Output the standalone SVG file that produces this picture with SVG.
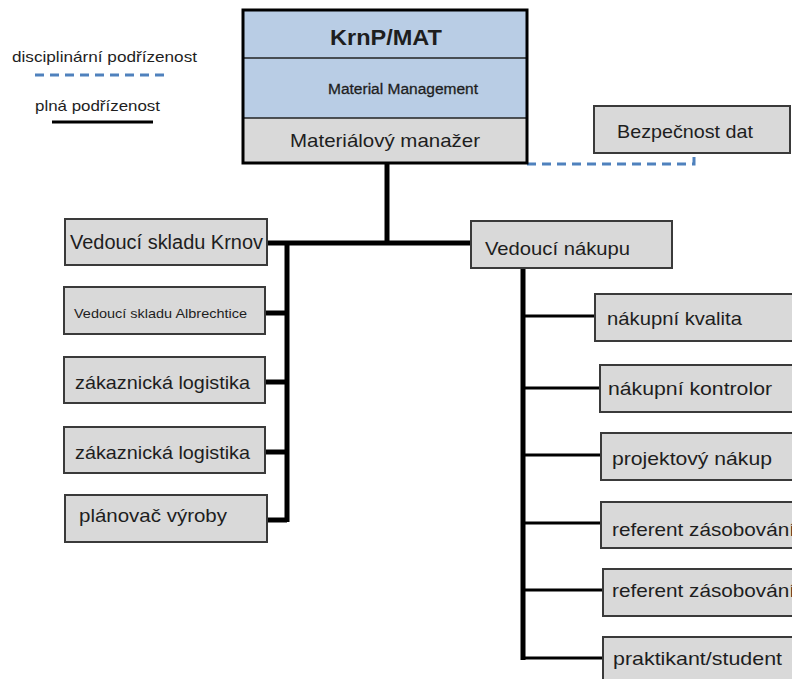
<svg xmlns="http://www.w3.org/2000/svg" width="792" height="679" viewBox="0 0 792 679">
<style>
text{font-family:"Liberation Sans","DejaVu Sans",sans-serif;fill:#1e1e1e}
.box{fill:#d9d9d9;stroke:#3a3a3a;stroke-width:2}
.thick{stroke:#000;stroke-width:5;fill:none}
.thin{stroke:#000;stroke-width:3;fill:none}
.dash{stroke:#4f81bd;stroke-width:3;stroke-dasharray:9 6;fill:none}
.t{font-size:18.5px}
</style>
<rect width="792" height="679" fill="#fff"/>
<g id="legend">
<text x="12" y="62" font-size="14.5" textLength="185" lengthAdjust="spacingAndGlyphs">disciplinární podřízenost</text>
<line x1="35" y1="75" x2="170" y2="75" class="dash"/>
<text x="35" y="111" font-size="14.5" textLength="125" lengthAdjust="spacingAndGlyphs">plná podřízenost</text>
<line x1="52" y1="122" x2="153" y2="122" stroke="#000" stroke-width="3"/>
</g>
<g id="connectors">
<line x1="387" y1="163" x2="387" y2="243" class="thick"/>
<line x1="267" y1="243" x2="472" y2="243" class="thick"/>
<line x1="287" y1="241" x2="287" y2="522" class="thick"/>
<line x1="265" y1="313" x2="287" y2="313" class="thick"/>
<line x1="265" y1="382" x2="287" y2="382" class="thick"/>
<line x1="265" y1="452" x2="287" y2="452" class="thick"/>
<line x1="267" y1="520" x2="287" y2="520" class="thick"/>
<line x1="523" y1="268" x2="523" y2="660" class="thick"/>
<line x1="523" y1="316" x2="595" y2="316" class="thin"/>
<line x1="523" y1="388" x2="600" y2="388" class="thin"/>
<line x1="523" y1="455" x2="601" y2="455" class="thin"/>
<line x1="523" y1="523" x2="601" y2="523" class="thin"/>
<line x1="523" y1="590" x2="603" y2="590" class="thin"/>
<line x1="523" y1="658" x2="603" y2="658" class="thin"/>
<path d="M527,164 H694 V153" class="dash"/>
</g>
<g id="top">
<rect x="243" y="10" width="284" height="108" fill="#b9cde5"/>
<rect x="243" y="118" width="284" height="45" fill="#d9d9d9"/>
<line x1="243" y1="58" x2="527" y2="58" stroke="#222" stroke-width="1.5"/>
<line x1="243" y1="118" x2="527" y2="118" stroke="#222" stroke-width="1.5"/>
<rect x="243" y="10" width="284" height="153" fill="none" stroke="#000" stroke-width="3"/>
<text x="386" y="45" font-size="22" font-weight="bold" text-anchor="middle" textLength="112" lengthAdjust="spacingAndGlyphs">KrnP/MAT</text>
<text x="403" y="94" font-size="15.5" text-anchor="middle" textLength="150" lengthAdjust="spacingAndGlyphs" stroke="#1e1e1e" stroke-width="0.3">Material Management</text>
<text x="290" y="147" class="t" textLength="190" lengthAdjust="spacingAndGlyphs">Materiálový manažer</text>
</g>
<g id="bezpecnost">
<rect x="594" y="106" width="196" height="47" class="box"/>
<text x="617" y="138" class="t" textLength="136" lengthAdjust="spacingAndGlyphs">Bezpečnost dat</text>
</g>
<g id="krnov">
<rect x="65" y="219" width="202" height="46" class="box"/>
<text x="70" y="249" font-size="19.5" textLength="193" lengthAdjust="spacingAndGlyphs">Vedoucí skladu Krnov</text>
</g>
<g id="albrechtice">
<rect x="64" y="287" width="201" height="47" class="box"/>
<text x="74" y="318" font-size="13" textLength="173" lengthAdjust="spacingAndGlyphs">Vedoucí skladu Albrechtice</text>
</g>
<g id="logistika1">
<rect x="64" y="357" width="201" height="46" class="box"/>
<text x="75" y="389" class="t" textLength="175" lengthAdjust="spacingAndGlyphs">zákaznická logistika</text>
</g>
<g id="logistika2">
<rect x="64" y="427" width="201" height="46" class="box"/>
<text x="75" y="459" class="t" textLength="175" lengthAdjust="spacingAndGlyphs">zákaznická logistika</text>
</g>
<g id="planovac">
<rect x="65" y="495" width="202" height="47" class="box"/>
<text x="79" y="522" class="t" textLength="148" lengthAdjust="spacingAndGlyphs">plánovač výroby</text>
</g>
<g id="nakup">
<rect x="471" y="221" width="201" height="47" class="box"/>
<text x="485" y="255" class="t" textLength="145" lengthAdjust="spacingAndGlyphs">Vedoucí nákupu</text>
</g>
<g id="kvalita">
<rect x="595" y="294" width="210" height="47" class="box"/>
<text x="607" y="325" class="t" textLength="135" lengthAdjust="spacingAndGlyphs">nákupní kvalita</text>
</g>
<g id="kontrolor">
<rect x="600" y="365" width="210" height="47" class="box"/>
<text x="608" y="395" class="t" textLength="164" lengthAdjust="spacingAndGlyphs">nákupní kontrolor</text>
</g>
<g id="projektovy">
<rect x="601" y="433" width="210" height="47" class="box"/>
<text x="612" y="465" class="t" textLength="160" lengthAdjust="spacingAndGlyphs">projektový nákup</text>
</g>
<g id="referent1">
<rect x="601" y="502" width="210" height="46" class="box"/>
<text x="612" y="536" class="t" textLength="183" lengthAdjust="spacingAndGlyphs">referent zásobování</text>
</g>
<g id="referent2">
<rect x="603" y="569" width="210" height="47" class="box"/>
<text x="612" y="597" class="t" textLength="183" lengthAdjust="spacingAndGlyphs">referent zásobování</text>
</g>
<g id="praktikant">
<rect x="603" y="637" width="210" height="60" class="box"/>
<text x="613" y="665" class="t" textLength="169" lengthAdjust="spacingAndGlyphs">praktikant/student</text>
</g>
</svg>
